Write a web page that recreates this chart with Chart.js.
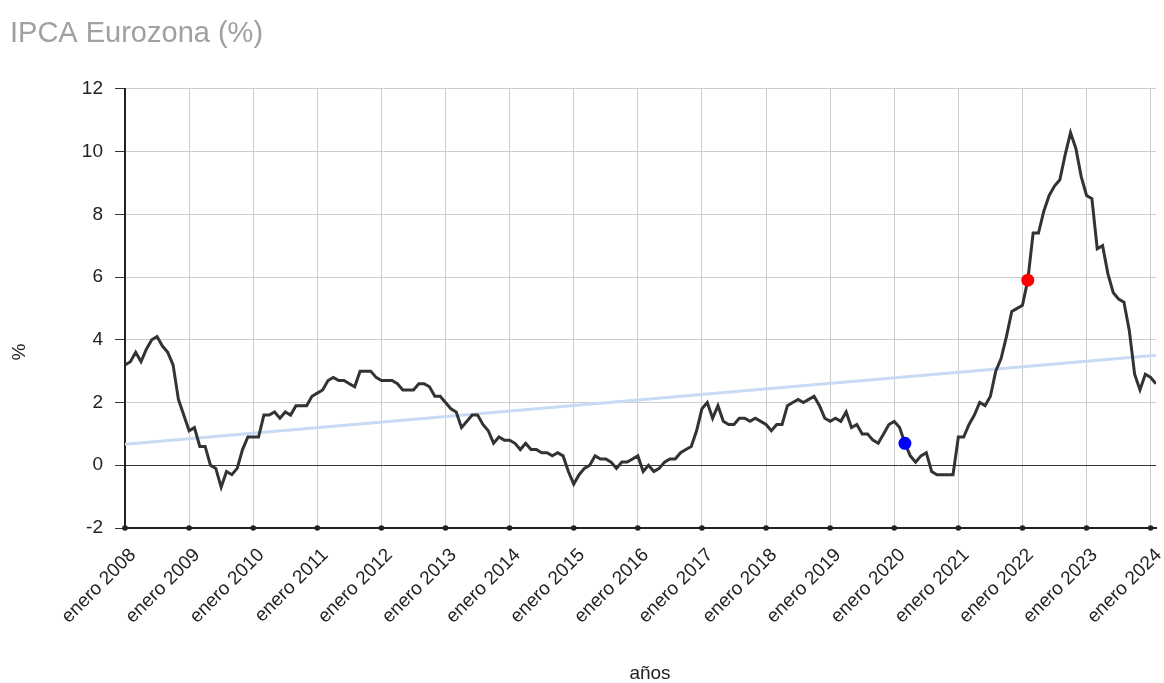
<!DOCTYPE html>
<html>
<head>
<meta charset="utf-8">
<title>IPCA Eurozona</title>
<script src="https://cdn.jsdelivr.net/npm/chart.js@4"></script>
<style>
  html, body { margin: 0; padding: 0; background: #fff; }
  #wrap { width: 1164px; height: 683px; position: relative; }
</style>
</head>
<body>
<div id="wrap"><canvas id="ipcaChart"></canvas></div>
<script>
// etiquetas del eje x (un tick por enero)
const tickLabels = ['enero 2008', 'enero 2009', 'enero 2010', 'enero 2011', 'enero 2012', 'enero 2013',
  'enero 2014', 'enero 2015', 'enero 2016', 'enero 2017', 'enero 2018', 'enero 2019', 'enero 2020',
  'enero 2021', 'enero 2022', 'enero 2023', 'enero 2024'];

// IPCA interanual mensual, enero 2008 - febrero 2024
const ipca = [
  3.2, 3.3, 3.6, 3.3, 3.7, 4.0, 4.1, 3.8, 3.6, 3.2, 2.1, 1.6,   // 2008
  1.1, 1.2, 0.6, 0.6, 0.0, -0.1, -0.7, -0.2, -0.3, -0.1, 0.5, 0.9, // 2009
  0.9, 0.9, 1.6, 1.6, 1.7, 1.5, 1.7, 1.6, 1.9, 1.9, 1.9, 2.2,   // 2010
  2.3, 2.4, 2.7, 2.8, 2.7, 2.7, 2.6, 2.5, 3.0, 3.0, 3.0, 2.8,   // 2011
  2.7, 2.7, 2.7, 2.6, 2.4, 2.4, 2.4, 2.6, 2.6, 2.5, 2.2, 2.2,   // 2012
  2.0, 1.8, 1.7, 1.2, 1.4, 1.6, 1.6, 1.3, 1.1, 0.7, 0.9, 0.8,   // 2013
  0.8, 0.7, 0.5, 0.7, 0.5, 0.5, 0.4, 0.4, 0.3, 0.4, 0.3, -0.2,  // 2014
  -0.6, -0.3, -0.1, 0.0, 0.3, 0.2, 0.2, 0.1, -0.1, 0.1, 0.1, 0.2, // 2015
  0.3, -0.2, 0.0, -0.2, -0.1, 0.1, 0.2, 0.2, 0.4, 0.5, 0.6, 1.1, // 2016
  1.8, 2.0, 1.5, 1.9, 1.4, 1.3, 1.3, 1.5, 1.5, 1.4, 1.5, 1.4,   // 2017
  1.3, 1.1, 1.3, 1.3, 1.9, 2.0, 2.1, 2.0, 2.1, 2.2, 1.9, 1.5,   // 2018
  1.4, 1.5, 1.4, 1.7, 1.2, 1.3, 1.0, 1.0, 0.8, 0.7, 1.0, 1.3,   // 2019
  1.4, 1.2, 0.7, 0.3, 0.1, 0.3, 0.4, -0.2, -0.3, -0.3, -0.3, -0.3, // 2020
  0.9, 0.9, 1.3, 1.6, 2.0, 1.9, 2.2, 3.0, 3.4, 4.1, 4.9, 5.0,   // 2021
  5.1, 5.9, 7.4, 7.4, 8.1, 8.6, 8.9, 9.1, 9.9, 10.6, 10.1, 9.2, // 2022
  8.6, 8.5, 6.9, 7.0, 6.1, 5.5, 5.3, 5.2, 4.3, 2.9, 2.4, 2.9,   // 2023
  2.8, 2.6                                                      // 2024
];

// línea de tendencia: valor al inicio y al final del periodo
const tendencia = [0.67, 3.51];

// puntos destacados: índice de mes (desde enero 2008)
const puntoRojo = [169];  // febrero 2022
const puntoAzul = [146];  // marzo 2020

const yTicks = [-2, 0, 2, 4, 6, 8, 10, 12];

const fuente = "'Liberation Sans', Arial, sans-serif";
const ultimo = ipca.length - 1;

// puntos negros sobre el eje x y títulos de ejes
const extras = {
  id: 'extras',
  afterDraw(chart) {
    const x = chart.scales.x;
    const c = chart.ctx;
    c.save();
    c.fillStyle = '#222';
    x.ticks.forEach(t => {
      c.beginPath();
      c.arc(x.getPixelForValue(t.value), x.top, 2.8, 0, Math.PI * 2);
      c.fill();
    });
    c.font = '19px ' + fuente;
    c.textAlign = 'center';
    c.textBaseline = 'middle';
    c.fillText('años', 650, 674);
    c.translate(20, 352);
    c.rotate(-Math.PI / 2);
    c.fillText('%', 0, 0);
    c.restore();
  }
};

const ctx = document.getElementById('ipcaChart').getContext('2d');
const chart = new Chart(ctx, {
  type: 'line',
  data: {
    datasets: [
      {
        label: 'Febrero 2022',
        data: puntoRojo.map(i => ({ x: i, y: ipca[i] })),
        showLine: false,
        pointRadius: 6.5,
        pointBackgroundColor: '#ff0000',
        pointBorderWidth: 0,
        order: 0
      },
      {
        label: 'Marzo 2020',
        data: puntoAzul.map(i => ({ x: i, y: ipca[i] })),
        showLine: false,
        pointRadius: 6.5,
        pointBackgroundColor: '#0000ff',
        pointBorderWidth: 0,
        order: 0
      },
      {
        label: 'IPCA',
        data: ipca.map((v, i) => ({ x: i, y: v })),
        borderColor: '#333333',
        borderWidth: 3,
        pointRadius: 0,
        tension: 0,
        order: 1
      },
      {
        label: 'Tendencia',
        data: [{ x: 0, y: tendencia[0] }, { x: ultimo, y: tendencia[1] }],
        borderColor: '#c8daf4',
        borderWidth: 3,
        pointRadius: 0,
        order: 2
      }
    ]
  },
  options: {
    responsive: true,
    maintainAspectRatio: false,
    animation: false,
    layout: { padding: { left: 10, right: 8, top: 0, bottom: 0 } },
    plugins: {
      legend: { display: false },
      tooltip: { enabled: false },
      title: {
        display: true,
        text: 'IPCA Eurozona (%)',
        align: 'start',
        color: '#a0a0a0',
        font: { family: fuente, size: 29, weight: 'normal' },
        padding: { top: 17, bottom: 37 }
      }
    },
    scales: {
      x: {
        type: 'linear',
        min: 0,
        max: ultimo,
        afterBuildTicks: s => { s.ticks = tickLabels.map((_, i) => ({ value: i * 12 })); },
        afterFit: s => { s.height = 155; s.paddingRight = 0; s.paddingLeft = 0; },
        ticks: {
          autoSkip: false,
          minRotation: 45,
          maxRotation: 45,
          padding: 16,
          labelOffset: 8,
          color: '#222',
          font: { family: fuente, size: 19 },
          callback: v => tickLabels[Math.round(v / 12)]
        },
        grid: { color: '#cccccc', drawTicks: false },
        border: { color: '#222', width: 2 }
      },
      y: {
        min: -2,
        max: 12,
        afterBuildTicks: s => { s.ticks = yTicks.map(v => ({ value: v })); },
        afterFit: s => { s.width = 115; },
        ticks: {
          padding: 12,
          color: '#222',
          font: { family: fuente, size: 19 }
        },
        grid: {
          color: c => (c.tick && c.tick.value === 0 ? '#333' : '#cccccc'),
          tickColor: '#333',
          tickLength: 10
        },
        border: { color: '#222', width: 2 }
      }
    }
  },
  plugins: [extras]
});
</script>
</body>
</html>
